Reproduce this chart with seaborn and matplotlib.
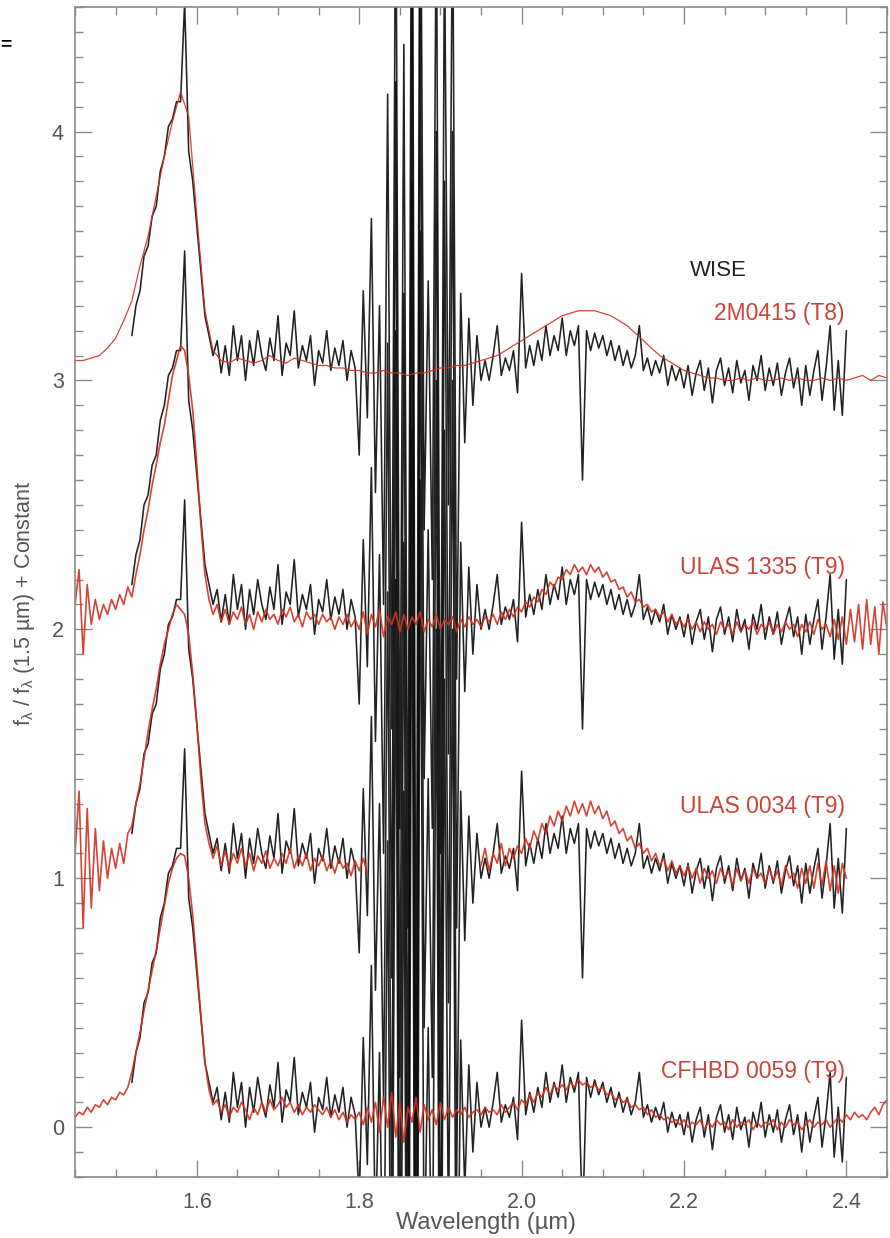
import numpy as np
import matplotlib
matplotlib.use("Agg")
import matplotlib.pyplot as plt
from matplotlib.ticker import MultipleLocator
import seaborn as sns

# ---------------- data (relative flux, before adding the constant) ----------------
STEP = 0.005

# WISE spectrum, 1.520 .. 2.400 um
wise_start = 1.520
wise_flux = [
    0.18, 0.30, 0.36, 0.50, 0.54, 0.66, 0.70, 0.84, 0.90, 1.02,
    1.05, 1.12, 1.12, 1.52, 0.92, 0.80, 0.62, 0.44, 0.26, 0.18,
    0.10, 0.16, 0.03, 0.14, 0.02, 0.22, 0.08, 0.18, 0.00, 0.16,
    0.06, 0.20, 0.10, 0.04, 0.17, 0.08, 0.26, 0.02, 0.15, 0.10,
    0.28, 0.05, 0.14, 0.08, 0.18, -0.02, 0.12, 0.07, 0.20, 0.04,
    0.13, 0.06, 0.16, 0.00, 0.12, 0.05, -0.30, 0.36, -0.15, 0.65,
    -0.45, 0.30, -0.90, 1.15, -1.40, 2.20, -1.80, 1.35, -2.20, 2.80,
    -3.00, 2.60, -0.60, 0.40, -0.80, 2.00, -1.90, 1.80, -0.50, 2.00,
    -1.20, 0.35, -0.25, 0.25, -0.10, 0.18, 0.00, 0.08, 0.00, 0.10,
    0.22, 0.02, 0.09, 0.04, 0.12, -0.05, 0.43, 0.05, 0.14, 0.06,
    0.16, 0.08, 0.22, 0.10, 0.18, 0.12, 0.25, 0.10, 0.20, 0.14,
    0.22, -0.40, 0.20, 0.12, 0.19, 0.13, 0.18, 0.10, 0.16, 0.08,
    0.14, 0.06, 0.12, 0.05, 0.10, 0.22, 0.04, 0.09, 0.02, 0.08,
    0.03, 0.10, -0.02, 0.06, 0.00, 0.05, -0.03, 0.06, -0.06, 0.03,
    0.08, -0.04, 0.05, -0.09, 0.04, 0.09, -0.02, 0.05, -0.05, 0.08,
    -0.01, 0.04, -0.08, 0.06, 0.00, 0.10, -0.04, 0.05, -0.02, 0.07,
    -0.06, 0.03, 0.09, -0.03, 0.05, -0.10, 0.06, -0.06, 0.04, 0.12,
    -0.08, 0.05, 0.22, -0.12, 0.08, -0.14, 0.20,
]

# CFHBD 0059 (T9), 1.450 .. 2.450 um, constant 0
cfhbd_start = 1.450
cfhbd_flux = [
    0.04, 0.06, 0.05, 0.08, 0.06, 0.09, 0.08, 0.11, 0.09, 0.12,
    0.11, 0.14, 0.13, 0.16, 0.22, 0.30, 0.38, 0.47, 0.55, 0.63,
    0.71, 0.80, 0.89, 0.98, 1.04, 1.08, 1.10, 1.09, 1.00, 0.85,
    0.65, 0.45, 0.26, 0.15, 0.09, 0.11, 0.06, 0.09, 0.04, 0.08,
    0.06, 0.10, 0.07, 0.03, 0.08, 0.05, 0.10, 0.06, 0.11, 0.07,
    0.09, 0.12, 0.08, 0.10, 0.06, 0.09, 0.05, 0.08, 0.06, 0.09,
    0.07, 0.05, 0.08, 0.04, 0.07, 0.03, 0.06, 0.02, 0.05, 0.03,
    0.06, 0.01, 0.08, 0.02, 0.10, -0.02, 0.12, 0.00, 0.14, -0.04,
    0.10, -0.06, 0.08, 0.02, 0.12, -0.02, 0.09, 0.03, 0.07, 0.01,
    0.10, 0.03, 0.08, 0.04, 0.07, 0.05, 0.08, 0.04, 0.06, 0.07,
    0.05, 0.08, 0.06, 0.07, 0.05, 0.09, 0.06, 0.08, 0.10, 0.07,
    0.11, 0.09, 0.13, 0.10, 0.14, 0.12, 0.16, 0.13, 0.17, 0.15,
    0.17, 0.15, 0.18, 0.16, 0.19, 0.17, 0.18, 0.16, 0.17, 0.15,
    0.16, 0.13, 0.14, 0.11, 0.12, 0.10, 0.11, 0.08, 0.09, 0.07,
    0.08, 0.05, 0.07, 0.04, 0.05, 0.03, 0.04, 0.02, 0.03, 0.01,
    0.03, 0.00, 0.02, 0.01, 0.03, -0.01, 0.02, 0.00, 0.03, 0.01,
    0.02, -0.01, 0.03, 0.00, 0.02, 0.01, 0.03, -0.01, 0.02, 0.00,
    0.02, 0.01, 0.03, -0.01, 0.02, 0.00, 0.03, 0.01, 0.02, -0.01,
    0.01, 0.03, 0.00, 0.02, 0.01, 0.03, 0.00, 0.02, 0.04, 0.02,
    0.05, 0.03, 0.06, 0.04, 0.05, 0.03, 0.06, 0.08, 0.05, 0.09,
    0.11,
]

# ULAS 0034 (T9), constant 1, two pieces (gap 1.81-1.95 um)
ulas0034_a_start = 1.450
ulas0034_a_flux = [
    0.10, 0.35, -0.20, 0.28, -0.12, 0.20, -0.05, 0.15, 0.00, 0.12,
    0.04, 0.14, 0.06, 0.18, 0.21, 0.30, 0.38, 0.48, 0.59, 0.68,
    0.76, 0.86, 0.94, 1.00, 1.06, 1.10, 1.08, 1.06, 0.98, 0.82,
    0.62, 0.40, 0.22, 0.14, 0.08, 0.13, 0.05, 0.11, 0.04, 0.10,
    0.06, 0.12, 0.05, 0.10, 0.03, 0.09, 0.06, 0.11, 0.04, 0.08,
    0.05, 0.10, 0.06, 0.12, 0.04, 0.09, 0.05, 0.10, 0.03, 0.08,
    0.05, 0.09, 0.03, 0.07, 0.02, 0.08, 0.04, 0.06, 0.01, 0.07,
    0.03, 0.08, 0.02,
]
ulas0034_b_start = 1.950
ulas0034_b_flux = [
    0.05, 0.12, 0.03, 0.10, 0.06, 0.14, 0.05, 0.12, 0.08, 0.13,
    0.10, 0.16, 0.12, 0.19, 0.15, 0.22, 0.18, 0.25, 0.21, 0.27,
    0.23, 0.29, 0.25, 0.31, 0.26, 0.30, 0.25, 0.31, 0.26, 0.29,
    0.24, 0.27, 0.21, 0.23, 0.18, 0.20, 0.15, 0.17, 0.12, 0.14,
    0.10, 0.12, 0.07, 0.10, 0.05, 0.08, 0.03, 0.07, 0.02, 0.05,
    0.01, 0.05, 0.00, 0.04, -0.02, 0.04, 0.00, 0.03, -0.02, 0.04,
    0.00, 0.03, -0.03, 0.04, -0.01, 0.03, -0.02, 0.04, 0.00, 0.02,
    -0.02, 0.04, -0.01, 0.03, -0.03, 0.05, 0.00, 0.02, -0.04, 0.04,
    -0.02, 0.05, -0.04, 0.06, -0.03, 0.07, -0.05, 0.05, -0.06, 0.06,
    0.00,
]

# ULAS 1335 (T9), 1.450 .. 2.450 um, constant 2
ulas1335_start = 1.450
ulas1335_flux = [
    0.10, 0.24, -0.10, 0.18, 0.02, 0.12, 0.04, 0.10, 0.06, 0.12,
    0.08, 0.14, 0.10, 0.17, 0.13, 0.22, 0.30, 0.40, 0.48, 0.58,
    0.66, 0.75, 0.82, 0.92, 1.02, 1.08, 1.14, 1.12, 1.02, 0.88,
    0.66, 0.42, 0.22, 0.12, 0.06, 0.10, 0.03, 0.08, 0.02, 0.07,
    0.04, 0.09, 0.02, 0.06, 0.00, 0.07, 0.03, 0.08, 0.04, 0.06,
    0.02, 0.08, 0.05, 0.09, 0.03, 0.06, 0.01, 0.07, 0.04, 0.06,
    0.02, 0.06, 0.03, 0.05, 0.00, 0.05, 0.02, 0.06, 0.01, 0.04,
    0.00, 0.07, -0.02, 0.06, 0.01, 0.08, -0.03, 0.05, 0.02, 0.07,
    -0.01, 0.06, 0.00, 0.05, 0.02, 0.07, -0.01, 0.04, 0.01, 0.06,
    0.00, 0.04, 0.02, 0.05, -0.01, 0.04, 0.01, 0.05, 0.02, 0.04,
    0.01, 0.05, 0.03, 0.06, 0.02, 0.07, 0.04, 0.08, 0.05, 0.09,
    0.07, 0.11, 0.09, 0.13, 0.11, 0.16, 0.14, 0.19, 0.17, 0.21,
    0.20, 0.24, 0.22, 0.26, 0.23, 0.25, 0.22, 0.26, 0.23, 0.25,
    0.21, 0.23, 0.19, 0.20, 0.16, 0.17, 0.13, 0.15, 0.11, 0.12,
    0.09, 0.10, 0.07, 0.08, 0.05, 0.07, 0.03, 0.06, 0.02, 0.04,
    0.01, 0.04, 0.00, 0.03, -0.01, 0.03, 0.00, 0.02, -0.02, 0.03,
    0.00, 0.02, -0.02, 0.03, -0.01, 0.02, 0.00, 0.03, -0.02, 0.02,
    0.00, 0.03, -0.02, 0.02, -0.01, 0.03, 0.00, 0.02, -0.03, 0.02,
    -0.01, 0.03, -0.02, 0.04, 0.00, 0.02, -0.03, 0.04, -0.04, 0.05,
    -0.06, 0.08, -0.05, 0.10, -0.08, 0.12, -0.06, 0.09, -0.10, 0.11,
    0.00,
]

# 2M0415 (T8), smooth, 1.45 .. 2.45 um in 0.01 um steps, constant 3
m0415_start = 1.45
m0415_step = 0.01
m0415_flux = [
    0.08, 0.08, 0.09, 0.10, 0.13, 0.17, 0.24, 0.32, 0.46, 0.58,
    0.74, 0.90, 1.04, 1.16, 1.06, 0.66, 0.28, 0.12, 0.08, 0.07,
    0.09, 0.08, 0.07, 0.08, 0.10, 0.08, 0.07, 0.09, 0.08, 0.07,
    0.06, 0.06, 0.05, 0.05, 0.04, 0.04, 0.03, 0.03, 0.04, 0.03,
    0.03, 0.02, 0.03, 0.03, 0.04, 0.05, 0.05, 0.06, 0.06, 0.07,
    0.08, 0.09, 0.10, 0.12, 0.14, 0.16, 0.18, 0.20, 0.22, 0.24,
    0.26, 0.27, 0.28, 0.28, 0.28, 0.27, 0.26, 0.24, 0.22, 0.19,
    0.16, 0.13, 0.10, 0.08, 0.06, 0.04, 0.03, 0.02, 0.01, 0.01,
    0.00, 0.00, 0.01, 0.00, 0.01, 0.00, 0.00, 0.01, 0.00, 0.01,
    0.00, 0.00, 0.01, 0.00, 0.01, 0.00, 0.01, 0.02, 0.00, 0.02,
    0.01,
]

constants = [0, 1, 2, 3]
labels = ["CFHBD 0059 (T9)", "ULAS 0034 (T9)", "ULAS 1335 (T9)", "2M0415 (T8)"]
label_y = [0.225, 1.29, 2.25, 3.27]

# ---------------- figure ----------------
sns.set_theme(style="white")
plt.rcParams["font.family"] = ["Liberation Sans", "DejaVu Sans"]
plt.rcParams["mathtext.default"] = "regular"

RED = "#d2301f"
RED_TXT = "#c9453a"
BLACK = "#0a0a0a"
GRAY = "#8a8a8a"
TXT = "#555555"


def grid(start, n, step=STEP):
    return start + step * np.arange(n)


fig = plt.figure(figsize=(8.9, 12.38), dpi=100)
ax = fig.add_axes([0.0843, 0.0493, 0.9123, 0.945])

wl_wise = grid(wise_start, len(wise_flux))
for c in constants:
    sns.lineplot(x=wl_wise, y=np.array(wise_flux) + c, color=BLACK, lw=1.15,
                 alpha=0.9, estimator=None, ax=ax)

red_series = [
    (cfhbd_start, cfhbd_flux, STEP, 0, 1.2),
    (ulas0034_a_start, ulas0034_a_flux, STEP, 1, 1.2),
    (ulas0034_b_start, ulas0034_b_flux, STEP, 1, 1.2),
    (ulas1335_start, ulas1335_flux, STEP, 2, 1.2),
    (m0415_start, m0415_flux, m0415_step, 3, 0.9),
]
for start, flux, step, c, lw in red_series:
    sns.lineplot(x=grid(start, len(flux), step), y=np.array(flux) + c,
                 color=RED, lw=lw, alpha=0.9, estimator=None, ax=ax)

ax.set_xlim(1.45, 2.45)
ax.set_ylim(-0.2, 4.5)

ax.xaxis.set_major_locator(MultipleLocator(0.2))
ax.xaxis.set_minor_locator(MultipleLocator(0.05))
ax.yaxis.set_major_locator(MultipleLocator(1))
ax.yaxis.set_minor_locator(MultipleLocator(0.1))
ax.set_xticks([1.6, 1.8, 2.0, 2.2, 2.4])
ax.set_xticklabels(["1.6", "1.8", "2.0", "2.2", "2.4"])
ax.set_yticks([0, 1, 2, 3, 4])
ax.set_yticklabels(["0", "1", "2", "3", "4"])

ax.tick_params(which="both", direction="in", top=True, right=True,
               bottom=True, left=True, color=GRAY, width=1.0)
ax.tick_params(which="major", length=12, labelsize=15.5, labelcolor=TXT)
ax.tick_params(axis="x", which="major", pad=11)
ax.tick_params(axis="y", which="major", pad=8)
ax.tick_params(which="minor", length=6)
for s in ax.spines.values():
    s.set_color(GRAY)
    s.set_linewidth(1.2)

ax.set_xlabel("Wavelength (\u00b5m)", fontsize=17, color=TXT)
ax.xaxis.set_label_coords(0.506, -0.030)
ax.set_ylabel("f$_\\lambda$ / f$_\\lambda$ (1.5 \u00b5m) + Constant", fontsize=15.5, color=TXT)
ax.yaxis.set_label_coords(-0.047, 0.49)

ax.text(2.207, 3.44, "WISE", color="#222222", fontsize=16, ha="left", va="center")
for lab, ly in zip(labels, label_y):
    ax.text(2.398, ly, lab, color=RED_TXT, fontsize=16.5, ha="right", va="center")

fig.text(0.0, 1 - 45 / 1238, "=", fontsize=14, fontweight="bold", color="black",
         ha="left", va="center")

fig.savefig("out.png", dpi=100)
